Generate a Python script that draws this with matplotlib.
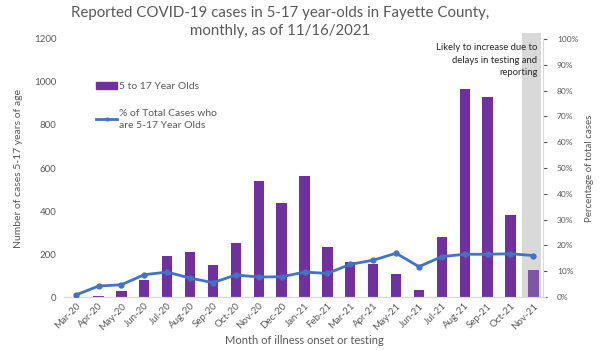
import matplotlib
matplotlib.use("Agg")
import matplotlib.pyplot as plt
from matplotlib.ticker import PercentFormatter
from matplotlib.lines import Line2D
from matplotlib.patches import Patch

plt.rcParams['font.family'] = ['Lato', 'DejaVu Sans']

months = ["Mar-20", "Apr-20", "May-20", "Jun-20", "Jul-20", "Aug-20", "Sep-20", "Oct-20",
          "Nov-20", "Dec-20", "Jan-21", "Feb-21", "Mar-21", "Apr-21", "May-21", "Jun-21",
          "Jul-21", "Aug-21", "Sep-21", "Oct-21", "Nov-21"]
cases = [2, 5, 28, 78, 190, 208, 149, 250, 541, 436, 564, 231, 165, 155, 109, 34,
         278, 966, 929, 381, 125]
pct = [0.8, 4.3, 4.8, 8.7, 9.7, 7.4, 5.6, 8.6, 7.8, 7.9, 9.7, 9.2, 12.7, 14.3, 17.0, 11.8,
       15.7, 16.6, 16.6, 16.8, 16.1]

left_ticks = [0, 200, 400, 600, 800, 1000, 1200]
right_ticks = [0, 10, 20, 30, 40, 50, 60, 70, 80, 90, 100]

gray = "#595959"
purple = "#7030a0"
blue = "#4472c4"

fig = plt.figure(figsize=(6, 3.5), dpi=100)
ax = fig.add_axes([0.107, 0.151, 0.801, 0.738])
ax2 = ax.twinx()

x = list(range(len(months)))
n = len(months)
band = ax.axvspan(n - 1 - 0.5, n - 1 + 0.33, ymax=1.023, color="#d9d9d9", zorder=0, lw=0)
band.set_clip_on(False)
colors = [purple] * (n - 1) + ["#7f55a5"]
ax.bar(x, cases, width=0.45, color=colors, zorder=2)
ax.set_ylim(0, 1200)
ax.set_yticks(left_ticks)
ax.set_xlim(-0.5, n - 0.5)
ax.set_xticks(x)
ax.set_xticklabels(months, rotation=45, ha="right", rotation_mode="anchor",
                   fontsize=7, color=gray)
ax.tick_params(axis="y", labelsize=7, colors=gray, length=0, pad=5.5)
ax.tick_params(axis="x", length=0, pad=3)

ax2.plot(x, pct, color=blue, lw=2, marker="o", ms=3.5, zorder=3)
ax2.set_ylim(0, 100)
ax2.set_yticks(right_ticks)
ax2.yaxis.set_major_formatter(PercentFormatter(decimals=0))
ax2.tick_params(axis="y", labelsize=6, colors=gray, length=3, pad=7)

for a in (ax, ax2):
    for s in ("top", "left"):
        a.spines[s].set_visible(False)
    a.spines["bottom"].set_color("#d9d9d9")
    a.spines["right"].set_color("#d9d9d9")
ax.spines["right"].set_visible(False)
ax2.spines["right"].set_position(("data", n - 1 + 0.42))

ax.set_ylabel("Number of cases 5-17 years of age", fontsize=7.5, color=gray, labelpad=8)
ax2.set_ylabel("Percentage of total cases", fontsize=7, color=gray, labelpad=5)
ax.set_xlabel("Month of illness onset or testing", fontsize=8, color=gray, labelpad=2)

fig.text(0.467, 0.983, "Reported COVID-19 cases in 5-17 year-olds in Fayette County,\nmonthly, as of 11/16/2021",
         ha="center", va="top", fontsize=10.8, color=gray, linespacing=1.4)

ax2.text(n - 1 + 0.18, 98.5, "Likely to increase due to\ndelays in testing and\nreporting",
         ha="right", va="top", fontsize=6.8, color="#262626", linespacing=1.55, zorder=5)

handles = [Patch(color=purple), Line2D([0], [0], color=blue, lw=2, marker="o", ms=2)]
labels = ["5 to 17 Year Olds", "% of Total Cases who\nare 5-17 Year Olds"]
leg = ax2.legend(handles, labels, loc="upper left", bbox_to_anchor=(0.058, 0.85),
                 frameon=False, fontsize=7.5, handlelength=2.0, handletextpad=0.2,
                 labelspacing=1.7, borderaxespad=0)
for t in leg.get_texts():
    t.set_color(gray)
    t.set_linespacing(1.5)

fig.savefig("out.png", dpi=100)
